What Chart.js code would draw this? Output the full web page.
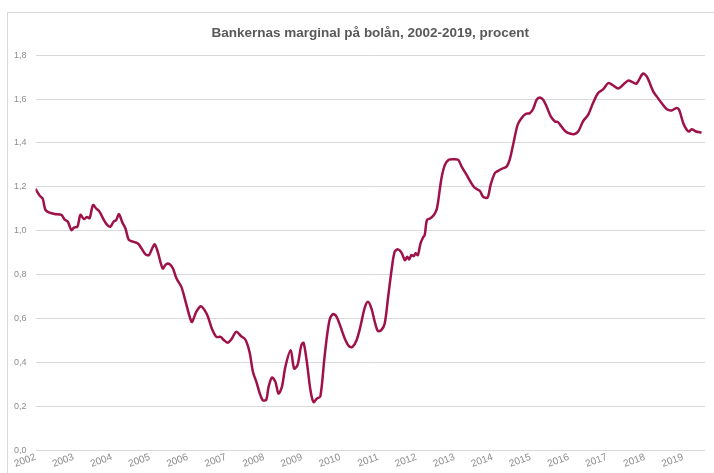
<!DOCTYPE html>
<html lang="sv">
<head>
<meta charset="utf-8">
<title>Bankernas marginal på bolån</title>
<script src="https://cdn.jsdelivr.net/npm/chart.js@4.4.1/dist/chart.umd.min.js"></script>
<style>
    html, body { margin: 0; padding: 0; background: #fff; }
    #wrap { position: relative; width: 714px; height: 473px; overflow: hidden; }
    #frame { position: absolute; left: 7px; top: 12px; width: 720px; height: 480px; border: 1px solid #d9d9d9; box-sizing: border-box; }
    #chart { position: absolute; left: 0; top: 0; }
</style>
</head>
<body>
<div id="wrap">
    <div id="frame"></div>
    <canvas id="chart" width="714" height="473"></canvas>
</div>
<script>
// Time positions (decimal years)
const dates = [
    2002.00, 2002.11, 2002.19, 2002.26, 2002.37, 2002.50, 2002.68, 2002.76, 2002.85, 2002.94,
    2003.01, 2003.10, 2003.18, 2003.27, 2003.35, 2003.42, 2003.51, 2003.59, 2003.68, 2003.77,
    2003.87, 2003.96, 2004.05, 2004.12, 2004.19, 2004.28, 2004.36, 2004.45, 2004.56, 2004.69,
    2004.78, 2004.89, 2004.98, 2005.07, 2005.13, 2005.21, 2005.34, 2005.43, 2005.52, 2005.61,
    2005.70, 2005.83, 2005.93, 2006.05, 2006.11, 2006.22, 2006.34, 2006.44, 2006.53, 2006.63,
    2006.75, 2006.86, 2006.95, 2007.05, 2007.14, 2007.27, 2007.40, 2007.51, 2007.62, 2007.71,
    2007.80, 2007.89, 2007.97, 2008.06, 2008.12, 2008.21, 2008.30, 2008.38, 2008.47, 2008.56,
    2008.70, 2008.79, 2008.88, 2008.98, 2009.04, 2009.13, 2009.22, 2009.30, 2009.39, 2009.48,
    2009.59, 2009.71, 2009.81, 2009.90, 2010.01, 2010.12, 2010.23, 2010.32, 2010.43, 2010.53,
    2010.64, 2010.73, 2010.82, 2010.91, 2010.99, 2011.08, 2011.17, 2011.26, 2011.35, 2011.43,
    2011.52, 2011.61, 2011.70, 2011.76, 2011.81, 2011.87, 2011.93, 2011.98, 2012.04, 2012.11,
    2012.18, 2012.22, 2012.28, 2012.37, 2012.46, 2012.53, 2012.57, 2012.66, 2012.75, 2012.85,
    2012.96, 2013.10, 2013.19, 2013.32, 2013.43, 2013.53, 2013.67, 2013.75, 2013.87, 2013.95,
    2014.06, 2014.15, 2014.24, 2014.37, 2014.45, 2014.54, 2014.66, 2014.76, 2014.87, 2014.98,
    2015.07, 2015.16, 2015.24, 2015.33, 2015.42, 2015.53, 2015.64, 2015.72, 2015.81, 2015.92,
    2016.03, 2016.14, 2016.25, 2016.38, 2016.51, 2016.64, 2016.77, 2016.91, 2017.04, 2017.17,
    2017.30, 2017.43, 2017.56, 2017.69, 2017.78, 2017.95, 2018.05, 2018.22, 2018.30, 2018.44,
    2018.57, 2018.70, 2018.83, 2018.90, 2019.01, 2019.10, 2019.16, 2019.23, 2019.34, 2019.49
];

// Bank margin on mortgages, percent
const margin = [
    1.19, 1.16, 1.145, 1.095, 1.082, 1.076, 1.072, 1.052, 1.041, 1.003,
    1.014, 1.018, 1.072, 1.053, 1.063, 1.057, 1.117, 1.102, 1.087, 1.057,
    1.029, 1.018, 1.041, 1.049, 1.075, 1.038, 1.011, 0.958, 0.950, 0.942,
    0.920, 0.892, 0.889, 0.922, 0.938, 0.904, 0.828, 0.847, 0.848, 0.828,
    0.783, 0.744, 0.684, 0.607, 0.584, 0.630, 0.656, 0.638, 0.607, 0.554,
    0.516, 0.516, 0.501, 0.489, 0.504, 0.539, 0.519, 0.504, 0.447, 0.356,
    0.311, 0.258, 0.227, 0.230, 0.288, 0.331, 0.311, 0.258, 0.288, 0.379,
    0.455, 0.372, 0.387, 0.478, 0.489, 0.395, 0.273, 0.219, 0.235, 0.245,
    0.425, 0.584, 0.620, 0.610, 0.562, 0.509, 0.474, 0.470, 0.501, 0.562,
    0.646, 0.676, 0.646, 0.584, 0.543, 0.547, 0.577, 0.699, 0.821, 0.904,
    0.915, 0.900, 0.866, 0.881, 0.869, 0.889, 0.884, 0.897, 0.889, 0.942,
    0.970, 0.980, 1.049, 1.057, 1.072, 1.095, 1.13, 1.239, 1.300, 1.323,
    1.326, 1.323, 1.292, 1.254, 1.221, 1.196, 1.181, 1.155, 1.151, 1.209,
    1.262, 1.273, 1.282, 1.292, 1.323, 1.391, 1.483, 1.513, 1.532, 1.536,
    1.556, 1.597, 1.607, 1.597, 1.566, 1.521, 1.498, 1.495, 1.475, 1.452,
    1.443, 1.440, 1.452, 1.50, 1.528, 1.582, 1.627, 1.645, 1.673, 1.662,
    1.648, 1.665, 1.684, 1.676, 1.670, 1.716, 1.703, 1.635, 1.615, 1.582,
    1.555, 1.548, 1.559, 1.551, 1.490, 1.460, 1.452, 1.463, 1.452, 1.447
];

const yearTicks = [2002, 2003, 2004, 2005, 2006, 2007, 2008, 2009, 2010,
    2011, 2012, 2013, 2014, 2015, 2016, 2017, 2018, 2019];
const valueTicks = [0, 0.2, 0.4, 0.6, 0.8, 1.0, 1.2, 1.4, 1.6, 1.8];

const points = dates.map((d, i) => ({ x: d, y: margin[i] }));
const fontFamily = 'Liberation Sans, Arial, sans-serif';

new Chart(document.getElementById('chart'), {
    type: 'line',
    data: {
        datasets: [{
            label: 'Bankernas marginal',
            data: points,
            borderColor: '#9e1149',
            borderWidth: 2.5,
            pointRadius: 0,
            tension: 0.3,
            fill: false
        }]
    },
    options: {
        responsive: false,
        animation: false,
        layout: { padding: { left: 5, right: 9, top: 0, bottom: 2 } },
        plugins: {
            legend: { display: false },
            tooltip: { enabled: false },
            title: {
                display: true,
                fullSize: false,
                text: 'Bankernas marginal på bolån, 2002-2019, procent',
                color: '#595959',
                font: { family: fontFamily, size: 13.5, weight: 'bold' },
                padding: { top: 25, bottom: 14 }
            }
        },
        scales: {
            x: {
                type: 'linear',
                min: 2002,
                max: 2019.58,
                afterBuildTicks: s => { s.ticks = yearTicks.map(v => ({ value: v })); },
                grid: { display: false, drawTicks: false },
                border: { display: false },
                ticks: {
                    color: '#8c8c8c',
                    font: { family: fontFamily, size: 10 },
                    minRotation: 20,
                    maxRotation: 20,
                    autoSkip: false,
                    padding: 1,
                    callback: v => String(v)
                }
            },
            y: {
                min: 0,
                max: 1.8,
                afterBuildTicks: s => { s.ticks = valueTicks.map(v => ({ value: v })); },
                grid: { color: '#d9d9d9', lineWidth: 1, drawTicks: false },
                border: { display: false },
                ticks: {
                    color: '#8c8c8c',
                    font: { family: fontFamily, size: 9 },
                    padding: 9,
                    callback: v => v.toFixed(1).replace('.', ',')
                }
            }
        }
    }
});
</script>
</body>
</html>
